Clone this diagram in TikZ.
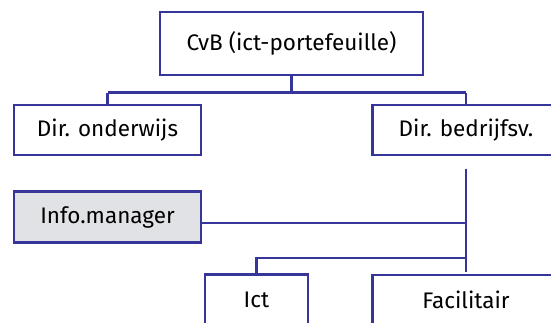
\documentclass[tikz,border=0pt]{standalone}
\usepackage{fontspec}
\setmainfont{Fira Sans}
\usepackage{tikz}
\usetikzlibrary{calc}
\definecolor{orgblue}{HTML}{35359A}
\definecolor{orggray}{HTML}{E1E2E5}
\tikzset{unit/.style={draw=orgblue,line width=2.7pt,fill=white,minimum width=187pt,minimum height=50pt,inner sep=0pt},
  link/.style={draw=orgblue,line width=2.1pt}}

\begin{document}
\begin{tikzpicture}[x=1pt,y=-1pt,font=\fontsize{22.5}{26}\selectfont,line join=miter]
\useasboundingbox (0,0) rectangle (551,322);
\clip (0,0) rectangle (551,322);
% --- top level and directors
\node[unit,minimum width=263pt,minimum height=63pt] (cvb) at (291.5,43.5) {CvB (ict-portefeuille)};
\node[unit] (onderwijs) at (107.5,130) {Dir. onderwijs};
\node[unit] (bedrijf) at (466,130) {Dir. bedrijfsv.};
\coordinate (fork) at (291.5,92.5);
\draw[link] (cvb.south) -- (fork) (onderwijs.north |- fork) -- (bedrijf.north |- fork);
\draw[link] (onderwijs.north |- fork) -- (onderwijs.north) (bedrijf.north |- fork) -- (bedrijf.north);
% --- staff and services below bedrijfsvoering
\node[unit,fill=orggray,minimum height=51pt] (info) at (107.5,217) {Info.manager};
\node[unit,minimum width=103pt] (ict) at (256.5,299.5) {Ict};
\node[unit] (facilitair) at (466,300) {Facilitair};
\coordinate (trunktop) at (466,169); \coordinate (trunkend) at (466,272);
\coordinate (split) at (466,258);
\draw[link] (trunktop) -- (trunkend);
\draw[link] ([yshift=-6pt]info.east) -- ([yshift=-6pt]info.east -| trunktop);
\draw[link] (split) -- (split -| ict.north) -- (ict.north);
\end{tikzpicture}
\end{document}
